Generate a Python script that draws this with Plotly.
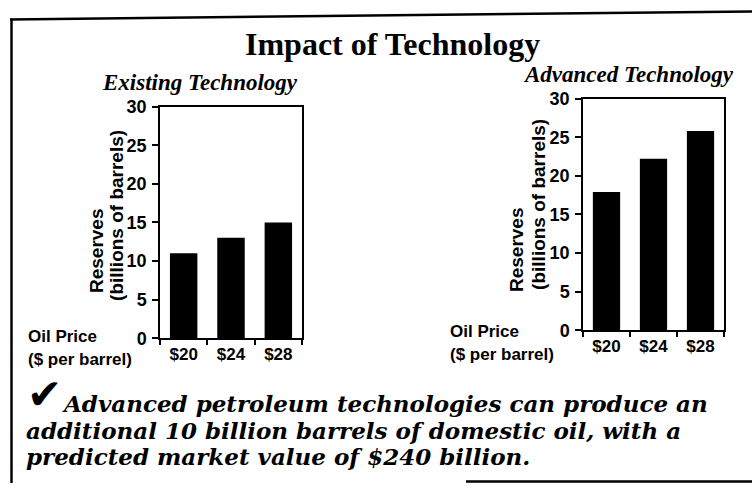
import plotly.graph_objects as go

# ---- data ----
categories = ["$20", "$24", "$28"]
existing_reserves = [11.0, 13.0, 15.0]
advanced_reserves = [17.9, 22.2, 25.8]
y_ticks = [0, 5, 10, 15, 20, 25, 30]

W, H = 752, 493
# the photographed page shows the figure slightly squeezed vertically; compensate
Y_OFF, Y_K = 10.6, 0.957


def px(x):
    return x / W


def py(y):
    yy = (y - Y_OFF) / Y_K
    return 1 - yy / H


SANS = "Liberation Sans, Arial, sans-serif"
SERIF = "Liberation Serif, Times New Roman, serif"
BODY = "DejaVu Serif, serif"

fig = go.Figure()
fig.add_trace(go.Bar(x=categories, y=existing_reserves, marker=dict(color="black", line=dict(width=0)),
                     width=0.58, xaxis="x", yaxis="y", showlegend=False))
fig.add_trace(go.Bar(x=categories, y=advanced_reserves, marker=dict(color="black", line=dict(width=0)),
                     width=0.58, xaxis="x2", yaxis="y2", showlegend=False))

xcommon = dict(type="category", showline=True, linecolor="black", linewidth=1.5, mirror=True,
               ticks="outside", tickson="boundaries", ticklen=5, tickwidth=1.5, tickcolor="black",
               showgrid=False, zeroline=False, range=[-0.5, 2.5],
               tickfont=dict(family=SANS, size=17, color="black", weight="bold"))
ycommon = dict(range=[0, 30], tickvals=y_ticks, showline=True, linecolor="black", linewidth=1.5,
               mirror=True, ticks="outside", ticklen=6, tickwidth=1.5, tickcolor="black",
               showgrid=False, zeroline=False, ticklabelstandoff=2,
               tickfont=dict(family=SANS, size=18, color="black", weight="bold"))

fig.update_layout(
    width=W, height=H, margin=dict(l=0, r=0, t=0, b=0, pad=0), autosize=False,
    paper_bgcolor="white", plot_bgcolor="white", bargap=0.4, showlegend=False,
    xaxis=dict(domain=[px(160), px(302)], anchor="y", **xcommon),
    yaxis=dict(domain=[py(338), py(107)], anchor="x", **ycommon),
    xaxis2=dict(domain=[px(583), px(724)], anchor="y2", **xcommon),
    yaxis2=dict(domain=[py(330), py(99)], anchor="x2", **ycommon),
)

ann = []


def text(x, y, s, size, family, xanchor="center", yanchor="middle", angle=0, bold=False, italic=False):
    ann.append(dict(x=px(x), y=py(y), xref="paper", yref="paper", text=s, showarrow=False,
                    xanchor=xanchor, yanchor=yanchor, textangle=angle, borderpad=0,
                    font=dict(family=family, size=size, color="black",
                              weight="bold" if bold else "normal",
                              style="italic" if italic else "normal")))


text(392, 45, "Impact of Technology", 32, SERIF, bold=True)
text(200, 83, "Existing Technology", 23, SERIF, bold=True, italic=True)
text(628, 75, "Advanced Technology", 23, SERIF, bold=True, italic=True)

# y axis titles
text(96, 250, "Reserves", 19, SANS, angle=-90, bold=True)
text(117, 216, "(billions of barrels)", 19, SANS, angle=-90, bold=True)
text(516, 250, "Reserves", 19, SANS, angle=-90, bold=True)
text(539, 205, "(billions of barrels)", 19, SANS, angle=-90, bold=True)

# x axis titles
text(27, 336, "Oil Price", 17, SANS, xanchor="left", bold=True)
text(27, 359, "($ per barrel)", 17, SANS, xanchor="left", bold=True)
text(449, 331, "Oil Price", 17, SANS, xanchor="left", bold=True)
text(449, 354, "($ per barrel)", 17, SANS, xanchor="left", bold=True)

# bottom statement
text(26, 394, "✔", 42, "DejaVu Sans", xanchor="left")
text(61, 403, "Advanced petroleum technologies can produce an", 23, BODY, xanchor="left", bold=True, italic=True)
text(25, 429.7, "additional 10 billion barrels of domestic oil, with a", 23, BODY, xanchor="left", bold=True, italic=True)
text(25, 456.4, "predicted market value of $240 billion.", 23, BODY, xanchor="left", bold=True, italic=True)

fig.update_layout(annotations=ann)

# border (decoration)
shapes = [
    dict(type="line", xref="paper", yref="paper", x0=px(10), y0=py(20), x1=px(752), y1=py(12),
         line=dict(color="black", width=2.5)),
    dict(type="line", xref="paper", yref="paper", x0=px(11.5), y0=py(19), x1=px(11.5), y1=0,
         line=dict(color="black", width=2.5)),
    dict(type="line", xref="paper", yref="paper", x0=px(466), y0=max(py(484), 0.003), x1=px(752),
         y1=max(py(484), 0.003), line=dict(color="black", width=2.5)),
]
fig.update_layout(shapes=shapes)

POST = (
    "var gd=document.getElementById('{plot_id}');"
    "var s=[document.documentElement, document.body];"
    "s.forEach(function(e){e.style.margin='0';e.style.padding='0';e.style.overflow='hidden';});"
    "if(gd){gd.style.position='absolute';gd.style.top='0px';gd.style.left='0px';}"
)

fig.write_html("out.html", config={"displayModeBar": False}, post_script=POST)
